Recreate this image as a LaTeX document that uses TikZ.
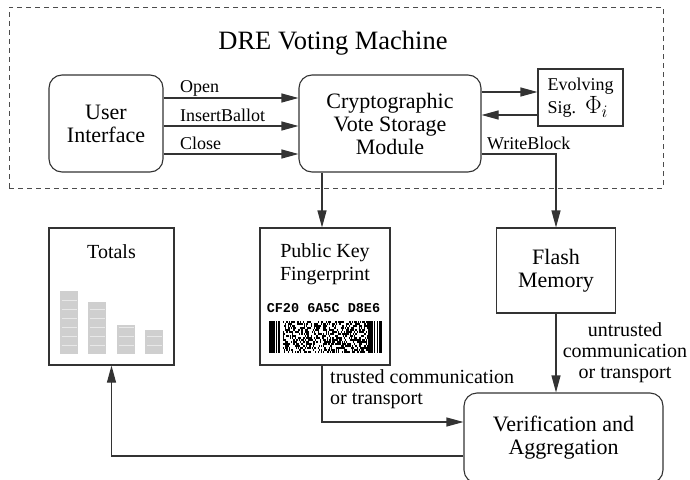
\RequirePackage{fix-cm}
\documentclass[tikz,border=0pt]{standalone}
\usepackage[no-math]{fontspec}
\setmainfont{Liberation Serif}
\setmonofont{Liberation Mono}
\usetikzlibrary{arrows.meta,calc}
\begin{document}
\begin{tikzpicture}[x=1pt,y=-1pt,
  ln/.style={draw=black!80, line width=1.1pt},
  arr/.style={ln, -{Triangle[length=17pt,width=9pt]}},
  rbox/.style={ln, rounded corners=13pt, inner sep=0pt, align=center, font=\fontsize{22}{23}\selectfont},
  sbox/.style={ln, inner sep=0pt, align=center},
  lbl/.style={font=\fontsize{18}{22}\selectfont, inner sep=0pt},
  comm/.style={font=\fontsize{20}{21}\selectfont, inner sep=0pt},
  barfill/.style={fill=gray!38},
  barline/.style={draw=gray!18, line width=0.6pt},
]
\useasboundingbox (0,0) rectangle (690,479);
% frame
\node[draw=black!70, line width=0.9pt, dash pattern=on 5pt off 4pt, minimum width=654pt, minimum height=181pt, inner sep=0pt] (dre) at (336,97.5) {};
\node[font=\fontsize{26.5}{30}\selectfont, inner sep=0pt] (title) at (333,43) {DRE Voting Machine};

% boxes
\node[rbox, minimum width=114pt, minimum height=97pt] (ui) at (106,123.5) {User\\Interface};
\node[rbox, minimum width=182pt, minimum height=97pt] (cvsm) at (390,123.5) {Cryptographic\\Vote Storage\\Module};
\node[sbox, minimum width=85pt, minimum height=57pt, font=\fontsize{18}{23}\selectfont, align=left] (evo) at (580.5,97.5) {Evolving\\Sig.\ \ {\fontsize{25}{23}\selectfont$\Phi_i$}};

\node[sbox, minimum width=125pt, minimum height=137pt] (tot) at (111.5,296.5) {};
\node[font=\fontsize{20}{23}\selectfont, inner sep=0pt] (totl) at (111.5,252) {Totals};
\node[sbox, minimum width=130pt, minimum height=137pt] (pk) at (325,296.5) {};
\node[align=center, font=\fontsize{20}{23}\selectfont, inner sep=0pt] (pkl) at (325,264) {Public Key\\Fingerprint};
\node[font=\ttfamily\bfseries\fontsize{13.5}{15}\selectfont, inner sep=0pt] (fp) at (323.5,308) {CF20 6A5C D8E6};
\node[sbox, minimum width=119pt, minimum height=85pt, font=\fontsize{22}{23}\selectfont] (flash) at (556,270.5) {Flash\\Memory};
\node[rbox, minimum width=199pt, minimum height=90pt] (va) at (563.5,438) {Verification and\\Aggregation};

% bars in Totals
\foreach \bx/\bt/\bn in {60/291/6, 88/302/5, 117/325/3, 145/330/2}{
  \fill[barfill] (\bx,\bt) rectangle (\bx+18,354);
  \foreach \k in {1,...,\bn}{
    \draw[barline] (\bx+1.5,354-9*\k) -- (\bx+16.5,354-9*\k);
  }
}

% barcode
\fill (269,321) rectangle (275.4,353);
\fill (276.2,321) rectangle (277,353);
\fill (277.8,321) rectangle (278.6,353);
\fill (279.4,321) rectangle (280.2,353);
\pgfmathsetseed{7}
\foreach \i in {0,...,73}{
  \foreach \j in {0,...,15}{
    \pgfmathtruncatemacro\rr{rnd>0.5?1:0}
    \ifnum\rr=1
      \fill (283+\i*1.15,321+\j*2) rectangle ++(1.15,2);
    \fi
  }
}
\fill (367.5,321) rectangle (373.1,353);
\fill (373.9,321) rectangle (374.7,353);
\fill (377.1,321) rectangle (377.9,353);
\fill (378.7,321) rectangle (379.5,353);
\fill (380.3,321) rectangle (381.9,353);

% UI -> CVSM
\draw[arr] ([yshift=25.5pt]ui.east) -- ([yshift=25.5pt]cvsm.west);
\draw[arr] ([yshift=-2.5pt]ui.east) -- ([yshift=-2.5pt]cvsm.west);
\draw[arr] ([yshift=-30.5pt]ui.east) -- ([yshift=-30.5pt]cvsm.west);
\node[lbl, anchor=base west] (lopen) at (180,92.5) {Open};
\node[lbl, anchor=base west] (lins) at (180,121) {InsertBallot};
\node[lbl, anchor=base west] (lclose) at (180,149.5) {Close};

% CVSM <-> Evolving
\coordinate (o1) at ([yshift=31.5pt]cvsm.east);
\coordinate (o2) at ([yshift=8.5pt]cvsm.east);
\draw[arr] (o1) -- (o1 -| evo.west);
\draw[arr] (o2 -| evo.west) -- (o2);

% WriteBlock
\coordinate (wb) at ([yshift=-30.5pt]cvsm.east);
\draw[arr] (wb) -| (flash.north);
\node[lbl, anchor=base west] (lwb) at (487,149) {WriteBlock};

% CVSM -> PK
\coordinate (pkin) at ([xshift=-3pt]pk.north);
\draw[arr] (pkin |- cvsm.south) -- (pkin);

% PK -> VA
\coordinate (vain) at ([yshift=16pt]va.west);
\draw[arr] (pkin |- pk.south) |- (vain);
\node[comm, align=left, anchor=west] (ltr) at (330,389) {trusted communication\\or transport};

% Flash -> VA
\draw[arr] (flash.south) -- (flash.south |- va.north);
\node[comm, align=center] (lun) at (625,353) {untrusted\\communication\\or transport};

% VA -> Totals
\coordinate (vaout) at ([yshift=-18pt]va.west);
\draw[arr] (vaout) -| (tot.south);
\end{tikzpicture}
\end{document}
